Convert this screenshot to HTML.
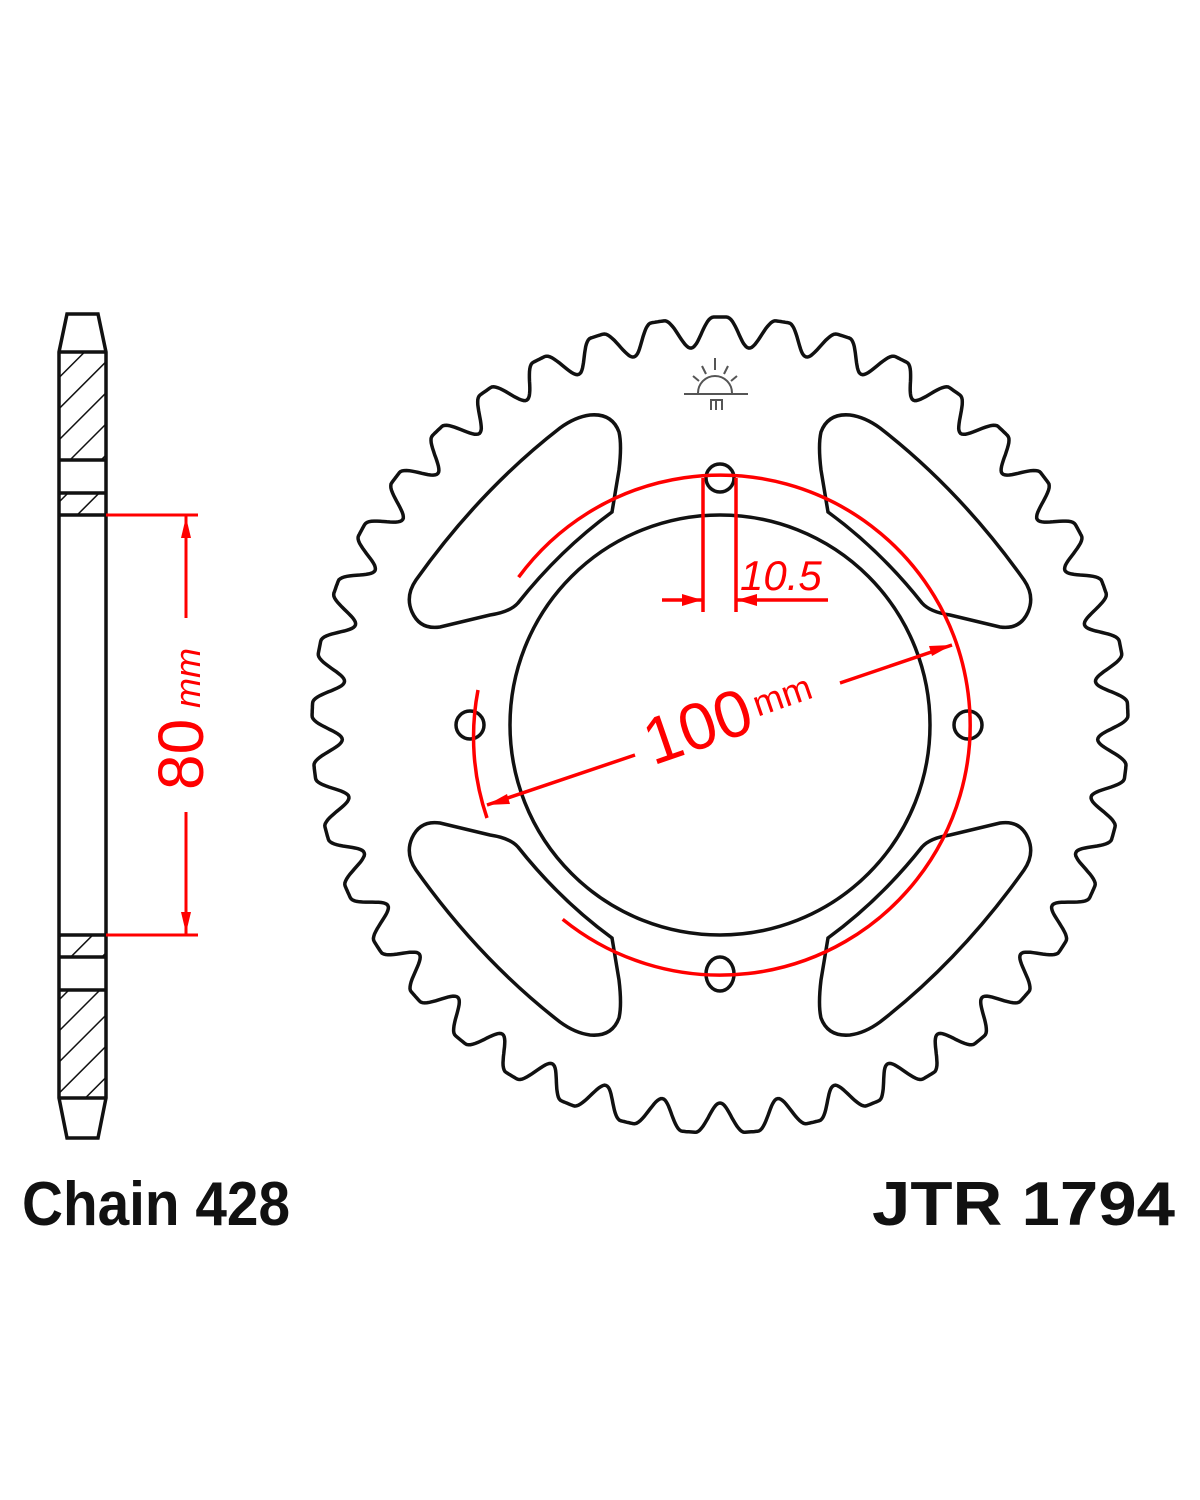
<!DOCTYPE html>
<html><head><meta charset="utf-8"><style>
html,body{margin:0;padding:0;background:#fff;}
svg{display:block;}
</style></head><body>
<svg id="s" width="1200" height="1500" viewBox="0 0 1200 1500" xmlns="http://www.w3.org/2000/svg">
<defs>
<pattern id="h" patternUnits="userSpaceOnUse" width="22" height="22" patternTransform="rotate(45)">
<line x1="0" y1="0" x2="0" y2="22" stroke="#111" stroke-width="3"/>
</pattern>
</defs>
<rect width="1200" height="1500" fill="#fff"/>
<g stroke="#111" stroke-width="3.5" fill="none">
<rect x="59" y="352" width="47" height="108" fill="url(#h)" stroke="none"/>
<rect x="59" y="493" width="47" height="22" fill="url(#h)" stroke="none"/>
<rect x="59" y="935" width="47" height="22" fill="url(#h)" stroke="none"/>
<rect x="59" y="990" width="47" height="108" fill="url(#h)" stroke="none"/>
<path d="M59 352 L67 314 L98 314 L106 352 L106 1098 L98 1138 L67 1138 L59 1098 Z"/>
<line x1="59" y1="352" x2="106" y2="352"/>
<line x1="59" y1="460" x2="106" y2="460"/>
<line x1="59" y1="493" x2="106" y2="493"/>
<line x1="59" y1="515" x2="106" y2="515"/>
<line x1="59" y1="935" x2="106" y2="935"/>
<line x1="59" y1="957" x2="106" y2="957"/>
<line x1="59" y1="990" x2="106" y2="990"/>
<line x1="59" y1="1098" x2="106" y2="1098"/>
</g>
<g stroke="#f00" stroke-width="3" fill="#f00">
<line x1="106" y1="515" x2="198" y2="515"/>
<line x1="106" y1="935" x2="198" y2="935"/>
<line x1="186" y1="515" x2="186" y2="618"/>
<line x1="186" y1="812" x2="186" y2="935"/>
<path d="M186 517 L181 538 L191 538 Z" stroke="none"/>
<path d="M186 933 L181 912 L191 912 Z" stroke="none"/>
</g>
<text transform="translate(203,790) rotate(-90)" font-family="Liberation Sans, sans-serif" font-size="64" fill="#f00">80</text>
<text transform="translate(200,708) rotate(-90)" font-family="Liberation Sans, sans-serif" font-size="36" font-style="italic" fill="#f00">mm</text>

<path id="teeth" fill="none" stroke="#111" stroke-width="3.5"/>
<circle cx="720" cy="725" r="210" fill="none" stroke="#111" stroke-width="3.5"/>
<g fill="none" stroke="#111" stroke-width="3.5">
<circle cx="720" cy="478" r="14"/>
<circle cx="470" cy="725" r="14"/>
<circle cx="968" cy="725" r="14"/>
<ellipse cx="720" cy="974" rx="14" ry="17"/>
<g id="win">
<path d="M590 415 Q612 413 619 432 Q622 445 619 470 L612 512 Q560 550 518 603 Q510 612 490 615 L440 627 Q420 630 412 612 Q405 596 416 580 Q480 490 560 428 Q575 417 590 415 Z"/>
</g>
<use href="#win" transform="translate(1440,0) scale(-1,1)"/>
<use href="#win" transform="translate(0,1450) scale(1,-1)"/>
<use href="#win" transform="translate(1440,1450) scale(-1,-1)"/>
</g>
<g stroke="#555" stroke-width="2" fill="none">
<path d="M698 393 A17 17 0 0 1 732 393"/>
<line x1="684" y1="394" x2="748" y2="394"/>
<line x1="715" y1="358" x2="715" y2="370"/>
<line x1="702" y1="366" x2="706" y2="374"/>
<line x1="728" y1="366" x2="724" y2="374"/>
<line x1="693" y1="376" x2="699" y2="381"/>
<line x1="737" y1="376" x2="731" y2="381"/>
<path d="M711 410 L711 400 L722 400 L722 410 M716 400 L716 410"/>
</g>

<g stroke="#f00" stroke-width="3.5" fill="none">
<path d="M518.6 577.2 A250 250 0 1 1 562.7 919.3"/>
<path d="M478 690 A250 250 0 0 0 487 818"/>
<line x1="703" y1="478" x2="703" y2="612"/>
<line x1="736" y1="478" x2="736" y2="612"/>
<line x1="662" y1="600" x2="703" y2="600"/>
<line x1="736" y1="600" x2="828" y2="600"/>
<line x1="487" y1="805" x2="635" y2="755"/>
<line x1="840" y1="683" x2="952" y2="645"/>
</g>
<g fill="#f00">
<path d="M702 600 L682 594 L682 606 Z"/>
<path d="M737 600 L757 594 L757 606 Z"/>
<path d="M487 805 L507 794 L510 804 Z"/>
<path d="M952 645 L932 656 L929 646 Z"/>
</g>
<text x="740" y="590" font-family="Liberation Sans, sans-serif" font-size="42" font-style="italic" fill="#f00">10.5</text>
<g transform="translate(712,722) rotate(-19)">
<text x="-70" y="22" font-family="Liberation Sans, sans-serif" font-size="66" fill="#f00">100</text>
<text x="45" y="10" font-family="Liberation Sans, sans-serif" font-size="36" fill="#f00">mm</text>
</g>

<text x="22" y="1225" font-family="Liberation Sans, sans-serif" font-weight="bold" font-size="62" textLength="268" lengthAdjust="spacingAndGlyphs" fill="#111">Chain 428</text>
<text x="872" y="1225" font-family="Liberation Sans, sans-serif" font-weight="bold" font-size="62" textLength="303" lengthAdjust="spacingAndGlyphs" fill="#111">JTR 1794</text>
</svg>
<script>
(function(){
var N=41,cx=720,cy=725,P=360/N,pts=[];
var steps=N*40;
for(var k=0;k<=steps;k++){
 var a=-90+k*360/steps;
 var d=((a+90)%P+P)%P; if(d>P/2)d-=P; d=Math.abs(d);
 var r;
 if(d<0.9) r=408;
 else{ var t=(d-0.9)/(P/2-0.9); var s=1-t;
   r=378+30*(1-Math.cos(Math.PI*s))/2; }
 var rad=a*Math.PI/180;
 pts.push((cx+r*Math.cos(rad)).toFixed(1)+' '+(cy+r*Math.sin(rad)).toFixed(1));
}
document.getElementById('teeth').setAttribute('d','M'+pts.join(' L')+' Z');
})();
</script>
</body></html>
